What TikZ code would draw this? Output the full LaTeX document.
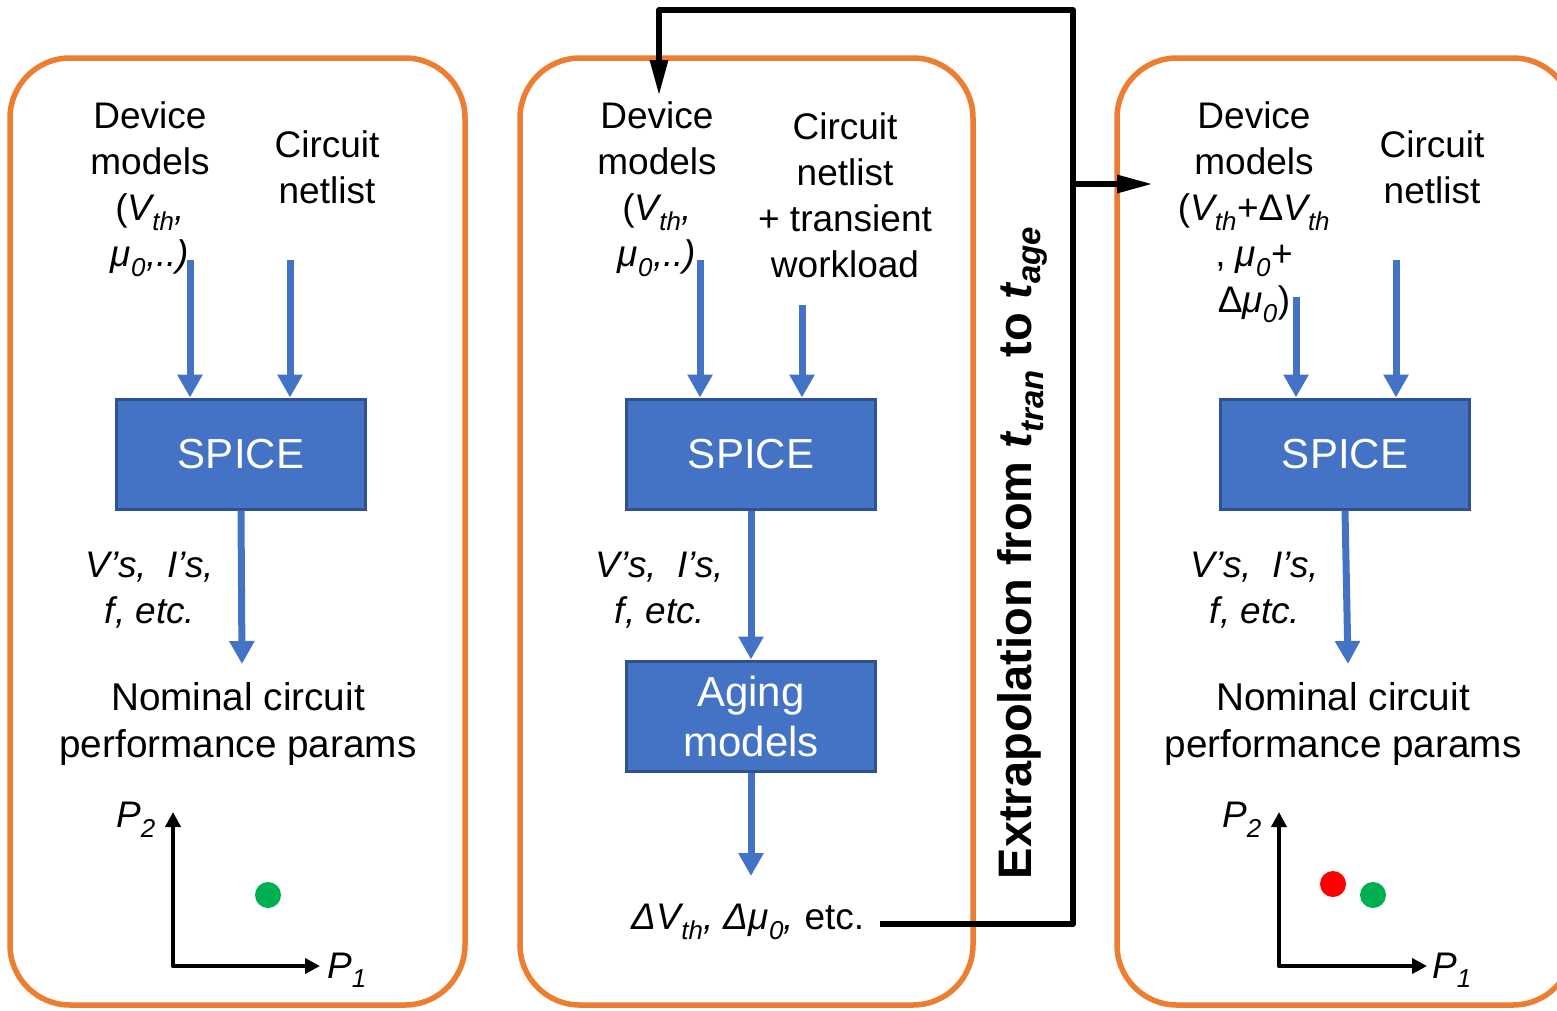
\documentclass[tikz,border=0pt]{standalone}
\usepackage{fontspec}
\setmainfont{Liberation Sans}
\usetikzlibrary{arrows.meta}
\definecolor{orangeC}{HTML}{ED7D31}
\definecolor{blueC}{HTML}{4472C4}
\definecolor{blueD}{HTML}{2F528F}
\definecolor{redC}{HTML}{FF0000}
\definecolor{greenC}{HTML}{00B050}
\newcommand{\sbs}[1]{\textsubscript{#1}}
\tikzset{
  frame/.style={draw=orangeC, line width=5.5pt, rounded corners=60pt},
  procbox/.style={draw=blueD, fill=blueC, line width=3pt, minimum width=249pt, minimum height=110pt,
    text=white, font=\fontsize{42}{50}\selectfont, align=center, inner sep=0pt},
  txt/.style={font=\fontsize{37}{46}\selectfont, align=center, inner sep=0pt},
  bigtxt/.style={font=\fontsize{38.7}{47}\selectfont, align=center, inner sep=0pt},
  itx/.style={font=\fontsize{37}{46}\selectfont\itshape, align=center, inner sep=0pt},
  barrow/.style={draw=blueC, line width=7pt, -{Triangle[width=24pt,length=23pt]}},
  kline/.style={draw=black, line width=6pt, line join=round},
  karrow/.style={kline, -{Triangle[width=17pt,length=36pt]}},
  axisarr/.style={draw=black, line width=4.5pt, line join=round, {Triangle[width=15pt,length=15pt]}-{Triangle[width=15pt,length=15pt]}},
  dot/.style={circle, minimum size=26pt, inner sep=0pt},
}
\begin{document}
\begin{tikzpicture}[x=1pt,y=-1pt]
\useasboundingbox (0,0) rectangle (1557,1010);
% frames
\draw[frame] (10,58) rectangle (465,1005);
\draw[frame] (520,58) rectangle (973,1005);
\draw[frame] (1117,58) rectangle (1573,1005);

% ---------- panel 1 ----------
\node[txt] (dev1) at (150,189) {Device\\models\\(\textit{V\sbs{th},}\\\textit{μ\sbs{0},..)}};
\node[txt] (net1) at (327,167) {Circuit\\netlist};
\node[procbox] (sp1) at (241,454) {SPICE};
\node[itx] (vi1) at (150,590) {V’s,\ \ I’s,\\f, etc.};
\node[bigtxt] (nom1) at (238,724) {Nominal circuit\\performance params};
\coordinate (a1) at (190,260);
\coordinate (b1) at (290,260);
\coordinate (o1) at (242,664);
\draw[barrow] (a1) -- (a1 |- sp1.north);
\draw[barrow] (b1) -- (b1 |- sp1.north);
\draw[barrow] (sp1.south) -- (o1);
\coordinate (ax1) at (173,966);
\coordinate (ay1) at (173,812);
\coordinate (axr1) at (320,966);
\draw[axisarr] (ay1) -- (ax1) -- (axr1);
\node[itx, anchor=center] (p21) at (136,820) {P\sbs{2}};
\node[itx, anchor=center] (p11) at (347,970) {P\sbs{1}};
\node[dot, fill=greenC] (g1) at (268,895) {};

% ---------- panel 2 ----------
\node[txt] (dev2) at (657,189) {Device\\models\\(\textit{V\sbs{th},}\\\textit{μ\sbs{0},..)}};
\node[txt] (net2) at (845,195) {Circuit\\netlist\\+ transient\\workload};
\node[procbox] (sp2) at (751,454) {SPICE};
\node[procbox] (ag) at (751,716) {Aging\\models};
\node[itx] (vi2) at (660,590) {V’s,\ \ I’s,\\f, etc.};
\node[txt, anchor=center] (delta) at (748,922) {\textit{ΔV\sbs{th}, Δμ\sbs{0},} etc.};
\coordinate (a2) at (700,260);
\coordinate (b2) at (802,305);
\coordinate (o2) at (751,876);
\draw[barrow] (a2) -- (a2 |- sp2.north);
\draw[barrow] (b2) -- (b2 |- sp2.north);
\draw[barrow] (sp2.south) -- (ag.north);
\draw[barrow] (ag.south) -- (o2);

% ---------- feedback connector ----------
\coordinate (k0) at (880,924);
\coordinate (k1) at (1073,924);
\coordinate (k2) at (1073,10);
\coordinate (k3) at (659,10);
\coordinate (k4) at (659,96);
\coordinate (br) at (1073,184);
\coordinate (br2) at (1153,184);
\draw[karrow] (k0) -- (k1) -- (k2) -- (k3) -- (k4);
\draw[karrow] (br) -- (br2);
\node[rotate=90, inner sep=0pt, font=\fontsize{47}{55}\selectfont\bfseries] (extra) at (1022,553)
  {Extrapolation from \textit{t\sbs{tran}} to \textit{t\sbs{age}}};

% ---------- panel 3 ----------
\node[txt] (dev3) at (1254,212) {Device\\models\\(\textit{V\sbs{th}}+Δ\textit{V\sbs{th}}\\, \textit{μ\sbs{0}}+\\Δ\textit{μ\sbs{0}})};
\node[txt] (net3) at (1432,167) {Circuit\\netlist};
\node[procbox] (sp3) at (1345,454) {SPICE};
\node[itx] (vi3) at (1255,590) {V’s,\ \ I’s,\\f, etc.};
\node[bigtxt] (nom3) at (1343,724) {Nominal circuit\\performance params};
\coordinate (a3) at (1296,297);
\coordinate (b3) at (1396,260);
\coordinate (o3) at (1348,664);
\draw[barrow] (a3) -- (a3 |- sp3.north);
\draw[barrow] (b3) -- (b3 |- sp3.north);
\draw[barrow] (sp3.south) -- (o3);
\coordinate (ax3) at (1279,966);
\coordinate (ay3) at (1279,812);
\coordinate (axr3) at (1427,966);
\draw[axisarr] (ay3) -- (ax3) -- (axr3);
\node[itx, anchor=center] (p23) at (1242,820) {P\sbs{2}};
\node[itx, anchor=center] (p13) at (1452,970) {P\sbs{1}};
\node[dot, fill=redC] (r3) at (1333,884) {};
\node[dot, fill=greenC] (g3) at (1373,895) {};
\end{tikzpicture}
\end{document}
